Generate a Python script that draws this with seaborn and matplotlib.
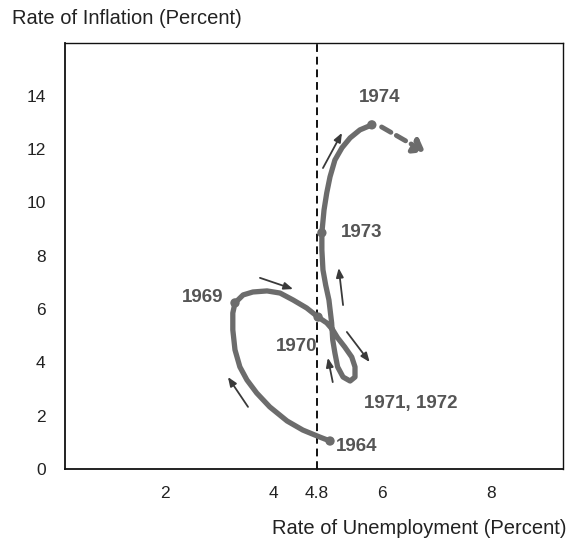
import matplotlib
matplotlib.use("Agg")
import matplotlib.pyplot as plt
import pandas as pd
import seaborn as sns

# ---- data ----
# traced Phillips-curve path, 1964 -> 1974
path_unemp = [5.04, 4.85, 4.54, 4.25, 3.93, 3.69, 3.51, 3.38, 3.29, 3.25, 3.25, 3.29,
              3.44, 3.62, 3.88, 4.12, 4.36, 4.61, 4.82, 4.98, 5.09, 5.18, 5.31, 5.44,
              5.50, 5.50, 5.41, 5.28, 5.18, 5.13, 5.09, 5.07, 5.02, 4.96, 4.91, 4.89,
              4.89, 4.93, 4.98, 5.04, 5.13, 5.26, 5.41, 5.59, 5.81]
path_infl = [1.05, 1.20, 1.46, 1.80, 2.33, 2.85, 3.34, 3.83, 4.47, 5.22, 5.85, 6.23,
             6.53, 6.64, 6.68, 6.60, 6.34, 6.04, 5.70, 5.48, 5.22, 4.92, 4.58, 4.20,
             3.83, 3.45, 3.30, 3.45, 3.83, 4.35, 4.84, 5.48, 6.34, 6.90, 7.47, 8.22,
             8.86, 9.72, 10.36, 10.96, 11.59, 12.05, 12.42, 12.72, 12.91]

# year points with markers
marker_years = ["1964", "1969", "1970", "1973", "1974"]
marker_unemp = [5.04, 3.29, 4.82, 4.89, 5.81]
marker_infl = [1.05, 6.23, 5.70, 8.86, 12.91]

# year labels
label_text = ["1964", "1969", "1970", "1971, 1972", "1973", "1974"]
label_x = [5.53, 2.70, 4.43, 6.53, 5.63, 5.96]
label_y = [0.83, 6.45, 4.58, 2.44, 8.89, 13.92]

# direction arrows (start -> end)
arrow_x0 = [3.53, 3.75, 5.28, 5.35, 5.09, 4.91]
arrow_y0 = [2.33, 7.17, 6.15, 5.14, 3.26, 11.29]
arrow_x1 = [3.16, 4.36, 5.20, 5.77, 5.00, 5.26]
arrow_y1 = [3.45, 6.75, 7.54, 4.01, 4.17, 12.61]

# dashed projection after 1974
proj_x = [5.99, 6.79]
proj_y = [12.83, 11.89]

natural_rate = 4.8
x_ticks = [2, 4, 4.8, 6, 8]
x_ticklabels = ["2", "4", "4.8", "6", "8"]
y_ticks = [0, 2, 4, 6, 8, 10, 12, 14]

# ---- figure ----
sns.set_theme(style="white")
plt.rcParams["font.family"] = ["Liberation Sans", "DejaVu Sans"]

fig = plt.figure(figsize=(5.69, 5.43), dpi=100)
ax = fig.add_axes([65 / 569, 1 - 469 / 543, (563 - 65) / 569, (469 - 43) / 543])

curve_col = "#6c6c6c"
df = pd.DataFrame({"u": path_unemp, "i": path_infl})
sns.lineplot(data=df, x="u", y="i", sort=False, estimator=None, ax=ax,
             color=curve_col, linewidth=3.8, solid_capstyle="round",
             solid_joinstyle="round")
mk = pd.DataFrame({"u": marker_unemp, "i": marker_infl, "year": marker_years})
sns.scatterplot(data=mk, x="u", y="i", ax=ax, color=curve_col, s=45,
                edgecolor="none", zorder=3)

ax.axvline(natural_rate, color="#111111", linewidth=1.4, linestyle=(0, (4, 2.5)),
           zorder=1)

for x0, y0, x1, y1 in zip(arrow_x0, arrow_y0, arrow_x1, arrow_y1):
    ax.annotate("", xy=(x1, y1), xytext=(x0, y0),
                arrowprops=dict(arrowstyle="-|>,head_length=0.45,head_width=0.18",
                                color="#3a3a3a", lw=1.3, shrinkA=0, shrinkB=0))

ax.annotate("", xy=(proj_x[1], proj_y[1]), xytext=(proj_x[0], proj_y[0]),
            arrowprops=dict(arrowstyle="-|>,head_length=0.55,head_width=0.4",
                            color=curve_col, lw=3.5, linestyle=(0, (2.2, 1.3)),
                            shrinkA=0, shrinkB=0))

for t, x, y in zip(label_text, label_x, label_y):
    ax.text(x, y, t, ha="center", va="center", fontsize=13.5, fontweight="bold",
            color="#555555")

ax.set_xlim(0.16, 9.33)
ax.set_ylim(0, 15.98)
ax.set_xticks(x_ticks)
ax.set_xticklabels(x_ticklabels)
ax.set_yticks(y_ticks)
ax.tick_params(axis="both", direction="in", length=9.5, width=1.2, color="#111111",
               labelsize=12.5, labelcolor="#222222", pad=12)
ax.tick_params(axis="y", pad=14)
ax.set_xlabel("")
ax.set_ylabel("")
for s in ax.spines.values():
    s.set_visible(True)
    s.set_color("#111111")
    s.set_linewidth(1.3)
ax.spines["top"].set_linewidth(1.0)
ax.spines["right"].set_linewidth(1.0)

fig.text(12 / 569, 1 - 18 / 543, "Rate of Inflation (Percent)", ha="left",
         va="center", fontsize=14.5, color="#222222")
fig.text(567 / 569, 1 - 528 / 543, "Rate of Unemployment (Percent)", ha="right",
         va="center", fontsize=14.5, color="#222222")

fig.savefig("out.png", dpi=100, facecolor="white")
